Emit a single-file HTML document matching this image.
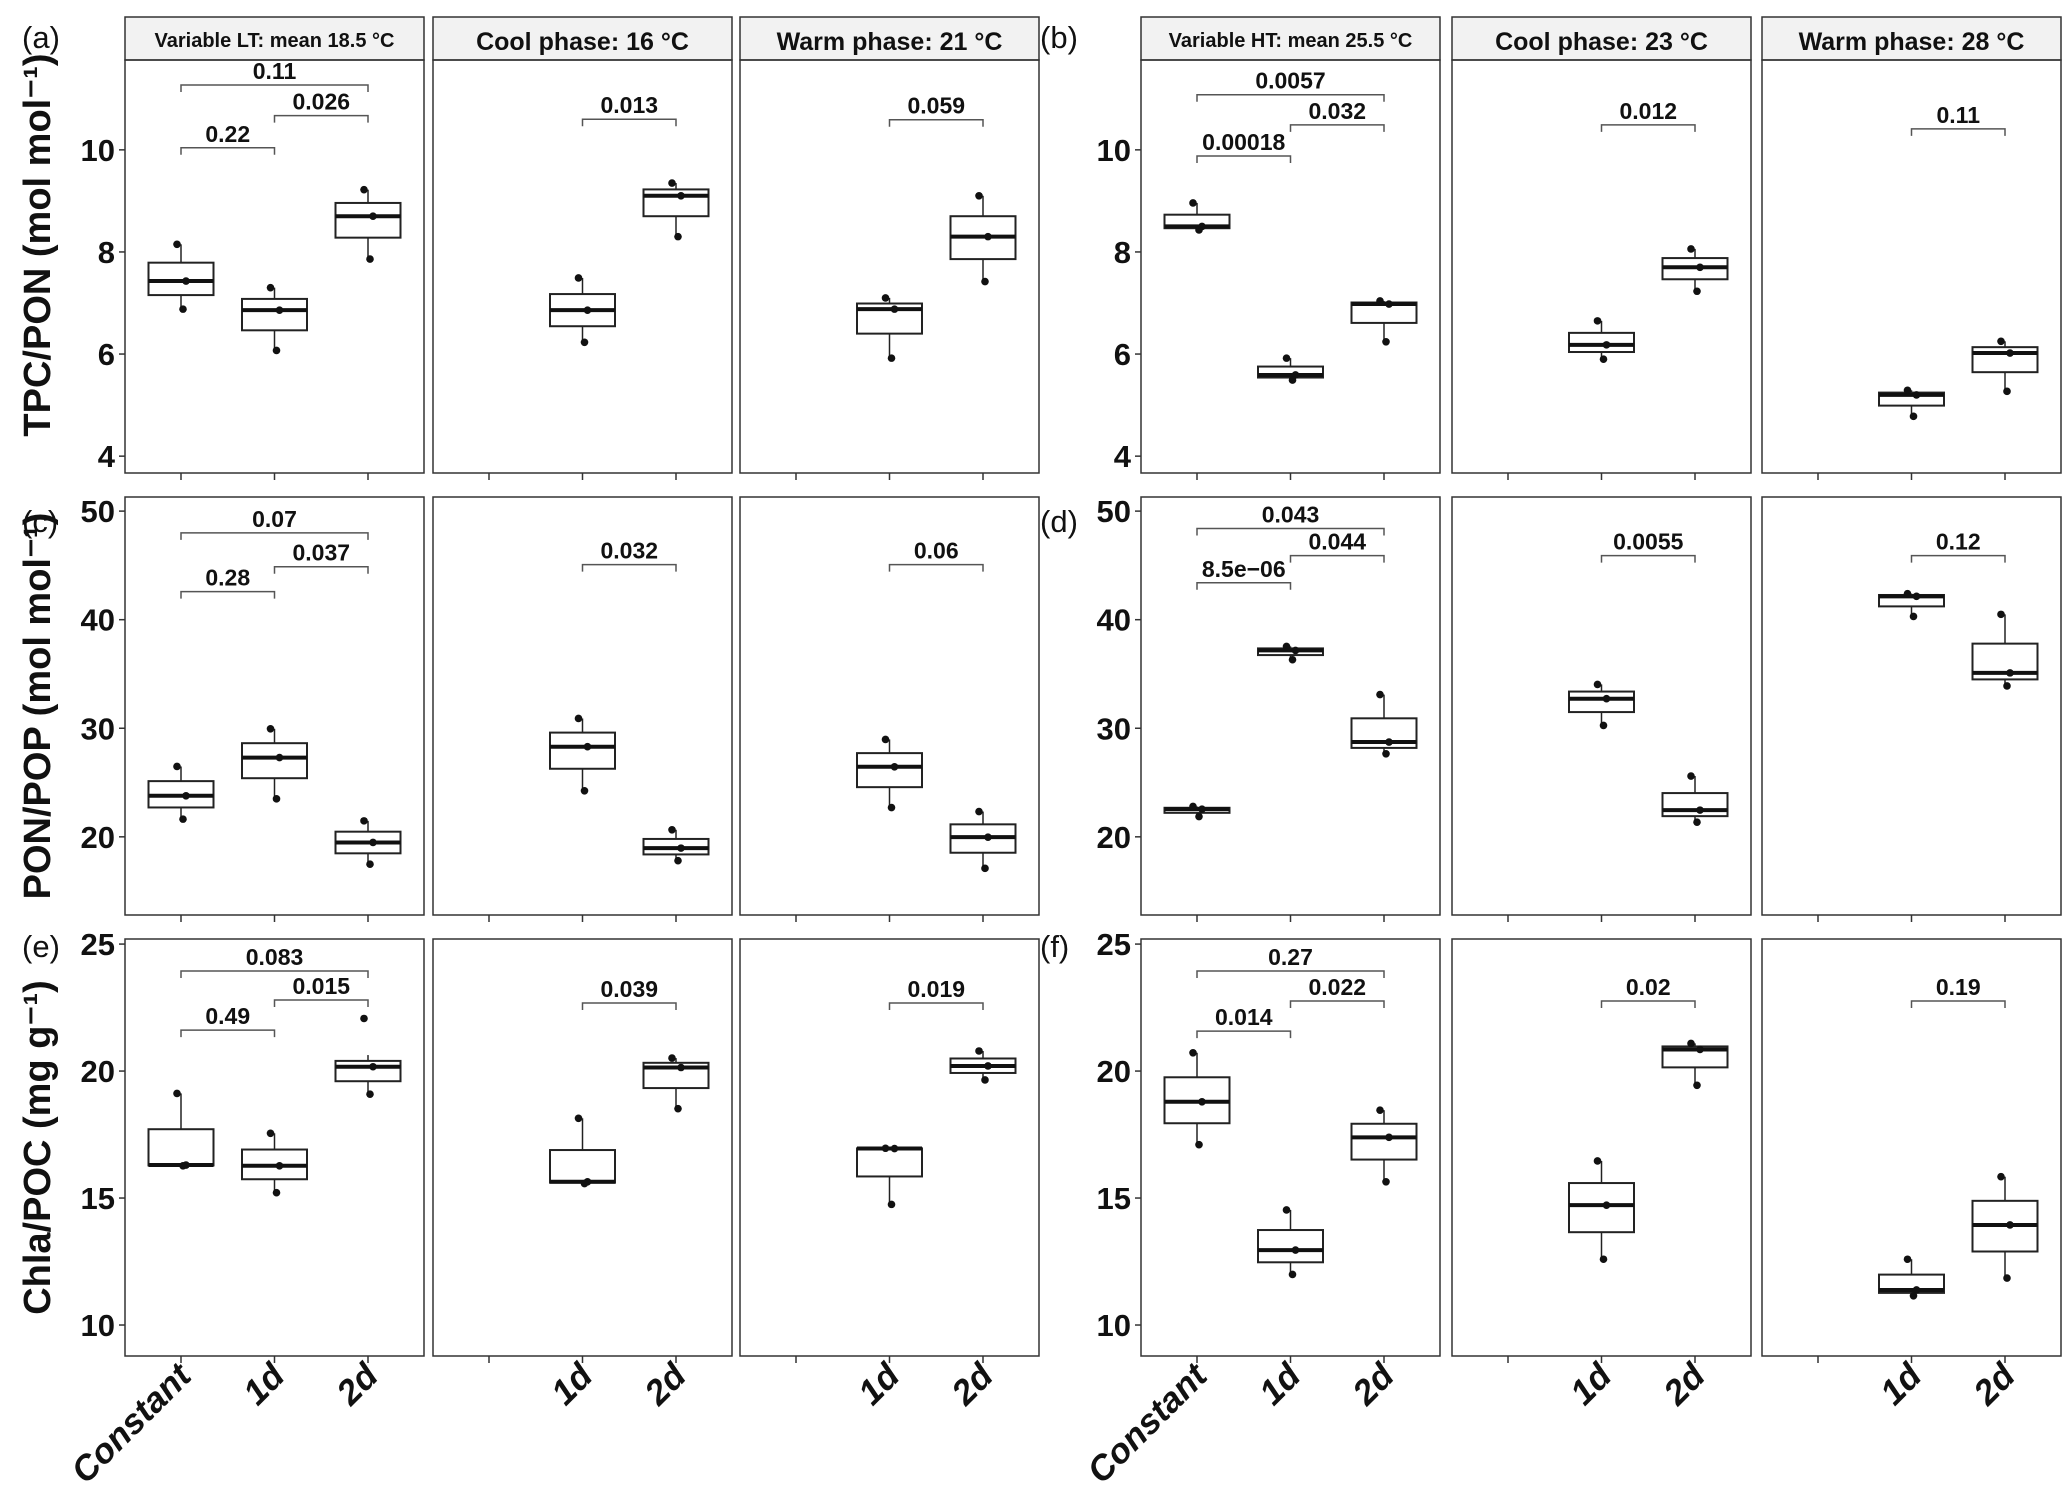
<!DOCTYPE html>
<html><head><meta charset="utf-8">
<style>
html,body{margin:0;padding:0;background:#fff;}
svg{display:block;font-family:"Liberation Sans",sans-serif;}
</style></head>
<body>
<svg id="fig" width="2067" height="1506" viewBox="0 0 2067 1506" xmlns="http://www.w3.org/2000/svg"></svg>
<script>
// ---- data: three replicate values per group (Constant, 1d, 2d) ----
const categories = ["Constant","1d","2d"];
const panelTitles = ["Variable LT: mean 18.5 °C","Cool phase: 16 °C","Warm phase: 21 °C","Variable HT: mean 25.5 °C","Cool phase: 23 °C","Warm phase: 28 °C"];
const rowTitles = ["TPC/PON (mol mol⁻¹)","PON/POP (mol mol⁻¹)","Chla/POC (mg g⁻¹)"];
const rowLetters = [["(a)","(b)"],["(c)","(d)"],["(e)","(f)"]];
const yTicks = [[4,6,8,10],[20,30,40,50],[10,15,20,25]];
const yDomains = [[3.67,11.76],[12.8,51.3],[8.78,25.2]];
// TPC/PON
const tpcVarLT = [[8.15,7.43,6.88],[7.3,6.86,6.07],[9.22,8.7,7.86]];
const tpcCoolLT = [null,[7.49,6.86,6.23],[9.35,9.1,8.3]];
const tpcWarmLT = [null,[7.1,6.88,5.92],[9.1,8.3,7.42]];
const tpcVarHT = [[8.96,8.5,8.43],[5.92,5.59,5.49],[7.04,6.98,6.24]];
const tpcCoolHT = [null,[6.65,6.18,5.9],[8.06,7.7,7.23]];
const tpcWarmHT = [null,[5.29,5.2,4.78],[6.25,6.02,5.27]];
// PON/POP
const ponVarLT = [[26.48,23.78,21.63],[29.95,27.3,23.5],[21.47,19.48,17.48]];
const ponCoolLT = [null,[30.9,28.3,24.24],[20.65,18.96,17.8]];
const ponWarmLT = [null,[28.97,26.45,22.7],[22.33,19.97,17.1]];
const ponVarHT = [[22.8,22.55,21.87],[37.54,37.17,36.31],[33.1,28.73,27.65]];
const ponCoolHT = [null,[34.04,32.72,30.26],[25.6,22.46,21.35]];
const ponWarmHT = [null,[42.4,42.15,40.3],[40.49,35.1,33.9]];
// Chla/POC
const chlVarLT = [[19.12,16.3,16.27],[17.55,16.27,15.21],[22.07,20.17,19.09]];
const chlCoolLT = [null,[18.14,15.64,15.57],[20.51,20.14,18.52]];
const chlWarmLT = [null,[16.96,16.95,14.75],[20.79,20.2,19.65]];
const chlVarHT = [[20.72,18.79,17.1],[14.53,12.95,11.99],[18.46,17.39,15.64]];
const chlCoolHT = [null,[16.46,14.72,12.59],[21.09,20.85,19.44]];
const chlWarmHT = [null,[12.59,11.38,11.15],[15.84,13.94,11.85]];
// box stat override for (e) Variable LT 2d: [whiskerLow, q1, median, q3, whiskerHigh]
const chlVarLT2dBox = [19.09,19.6,20.17,20.4,20.63];
// brackets: [label, fromIdx, toIdx, yValue]
const brA = [["0.22",0,1,10.04],["0.026",1,2,10.67],["0.11",0,2,11.27]];
const brACool = [["0.013",1,2,10.6]];
const brAWarm = [["0.059",1,2,10.59]];
const brB = [["0.00018",0,1,9.88],["0.032",1,2,10.49],["0.0057",0,2,11.08]];
const brBCool = [["0.012",1,2,10.49]];
const brBWarm = [["0.11",1,2,10.41]];
const brC = [["0.28",0,1,42.58],["0.037",1,2,44.88],["0.07",0,2,48.0]];
const brCCool = [["0.032",1,2,45.07]];
const brCWarm = [["0.06",1,2,45.07]];
const brD = [["8.5e−06",0,1,43.4],["0.044",1,2,45.9],["0.043",0,2,48.4]];
const brDCool = [["0.0055",1,2,45.9]];
const brDWarm = [["0.12",1,2,45.9]];
const brE = [["0.49",0,1,21.61],["0.015",1,2,22.8],["0.083",0,2,23.94]];
const brECool = [["0.039",1,2,22.68]];
const brEWarm = [["0.019",1,2,22.68]];
const brF = [["0.014",0,1,21.57],["0.022",1,2,22.76],["0.27",0,2,23.94]];
const brFCool = [["0.02",1,2,22.76]];
const brFWarm = [["0.19",1,2,22.76]];

const rowsData = [
  [tpcVarLT,tpcCoolLT,tpcWarmLT,tpcVarHT,tpcCoolHT,tpcWarmHT],
  [ponVarLT,ponCoolLT,ponWarmLT,ponVarHT,ponCoolHT,ponWarmHT],
  [chlVarLT,chlCoolLT,chlWarmLT,chlVarHT,chlCoolHT,chlWarmHT]];
const rowsBr = [
  [brA,brACool,brAWarm,brB,brBCool,brBWarm],
  [brC,brCCool,brCWarm,brD,brDCool,brDWarm],
  [brE,brECool,brEWarm,brF,brFCool,brFWarm]];

// ---- layout ----
const NS="http://www.w3.org/2000/svg";
const svg=document.getElementById('fig');
const panelLeft=[125,433,740,1141,1452,1762];
const panelW=299;
const rowTop=[60,497,939], rowBot=[473,915,1356];
const stripTop=17;
function mk(tag,attrs,parent){const e=document.createElementNS(NS,tag);for(const k in attrs)e.setAttribute(k,attrs[k]);(parent||svg).appendChild(e);return e;}
function xPos(p,i){return panelLeft[p]+56+i*93.5;}
function yScale(r,v){const d=yDomains[r];return rowBot[r]-(v-d[0])/(d[1]-d[0])*(rowBot[r]-rowTop[r]);}
const jit=[-4,5,2];

for(let r=0;r<3;r++){
  const cy=(r===0?(stripTop+rowBot[0])/2:(rowTop[r]+rowBot[r])/2);
  const yt=mk('text',{x:0,y:0,transform:`translate(50,${cy}) rotate(-90)`,'text-anchor':'middle','font-size':38,'font-weight':'bold',fill:'#111'});
  
  
  yt.textContent=rowTitles[r];
  for(let g=0;g<2;g++){
    const lx=g===0?22:1040;
    const ly=r===0?48:rowTop[r]+(r===1?35:18);
    const lt=mk('text',{x:lx,y:ly,'font-size':31,fill:'#111'});
    
    
    lt.textContent=rowLetters[r][g];
    const p0=g*3;
    yTicks[r].forEach(t=>{
      const y=yScale(r,t);
      mk('line',{x1:panelLeft[p0]-6,x2:panelLeft[p0],y1:y,y2:y,stroke:'#333','stroke-width':1.5});
      const tl=mk('text',{x:panelLeft[p0]-10,y:y+11,'text-anchor':'end','font-size':31,'font-weight':'bold',fill:'#111'});
      
      
      tl.textContent=t;
    });
  }
  for(let p=0;p<6;p++){
    const L=panelLeft[p];
    const g=mk('g',{});
    
    
    if(r===0){
      const st=mk('rect',{x:L,y:stripTop,width:panelW,height:rowTop[0]-stripTop,fill:'#f2f2f2',stroke:'#333','stroke-width':1.5},g);
      
      
      const small=(p%3===0);
      const tt=mk('text',{x:L+panelW/2,y:small?47:50,'text-anchor':'middle','font-size':small?20:25,'font-weight':'bold',fill:'#111'},g);
      
      
      tt.textContent=panelTitles[p];
    }
    mk('rect',{x:L,y:rowTop[r],width:panelW,height:rowBot[r]-rowTop[r],fill:'none',stroke:'#333','stroke-width':1.5},g);
    for(let i=0;i<3;i++){
      const x=xPos(p,i);
      mk('line',{x1:x,x2:x,y1:rowBot[r],y2:rowBot[r]+7,stroke:'#333','stroke-width':1.5},g);
      if(r===2){
        if(p%3===0||i>0){
          const xl=mk('text',{x:0,y:0,transform:`translate(${x+12},${rowBot[r]+22}) rotate(-45)`,'text-anchor':'end','font-size':35,'font-weight':'bold','font-style':'italic',fill:'#111'});
          
          
          xl.textContent=categories[i];
        }
      }
      const vals=rowsData[r][p][i];
      if(!vals) continue;
      const s=[...vals].sort((a,b)=>a-b);
      let wl=s[0],md=s[1],wh_=s[2];
      let q1=(s[0]+md)/2,q3=(md+s[2])/2;
      if(r===2&&p===0&&i===2){[wl,q1,md,q3,wh_]=chlVarLT2dBox;}
      const bw=65;
      const wh=mk('line',{x1:x,x2:x,y1:yScale(r,wh_),y2:yScale(r,wl),stroke:'#222','stroke-width':1.5},g);
      
      
      const bx=mk('rect',{x:x-bw/2,y:yScale(r,q3),width:bw,height:yScale(r,q1)-yScale(r,q3),fill:'#fff',stroke:'#222','stroke-width':2},g);
      
      
      const ml=mk('line',{x1:x-bw/2,x2:x+bw/2,y1:yScale(r,md),y2:yScale(r,md),stroke:'#111','stroke-width':4},g);
      
      
      vals.forEach((v,k)=>{
        const c=mk('circle',{cx:x+jit[k],cy:yScale(r,v),r:3.8,fill:'#111'},g);
        
        
      });
    }
    rowsBr[r][p].forEach(b=>{
      const x1=xPos(p,b[1]),x2=xPos(p,b[2]),y=yScale(r,b[3]);
      const pl=mk('polyline',{points:`${x1},${y+7} ${x1},${y} ${x2},${y} ${x2},${y+7}`,fill:'none',stroke:'#555','stroke-width':1.5},g);
      
      
      const bt=mk('text',{x:(x1+x2)/2,y:y-6,'text-anchor':'middle','font-size':23,'font-weight':'bold',fill:'#111'},g);
      
      
      bt.textContent=b[0];
    });
  }
}
</script>
</body></html>
